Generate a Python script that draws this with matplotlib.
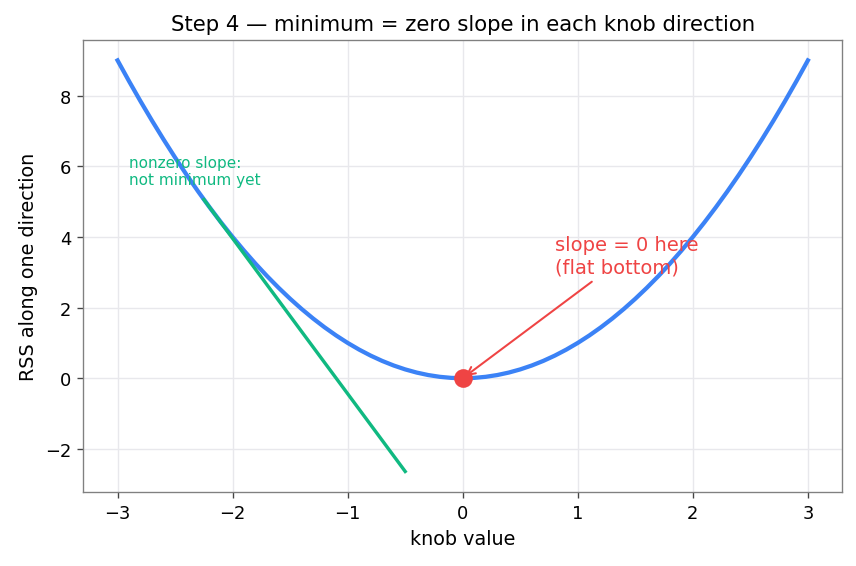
import matplotlib
matplotlib.use('Agg')
import matplotlib.pyplot as plt

# knob values and RSS
knob = [-3.0, -2.9, -2.8, -2.7, -2.6, -2.5, -2.4, -2.3, -2.2, -2.1, -2.0,
        -1.9, -1.8, -1.7, -1.6, -1.5, -1.4, -1.3, -1.2, -1.1, -1.0,
        -0.9, -0.8, -0.7, -0.6, -0.5, -0.4, -0.3, -0.2, -0.1, 0.0,
        0.1, 0.2, 0.3, 0.4, 0.5, 0.6, 0.7, 0.8, 0.9, 1.0,
        1.1, 1.2, 1.3, 1.4, 1.5, 1.6, 1.7, 1.8, 1.9, 2.0,
        2.1, 2.2, 2.3, 2.4, 2.5, 2.6, 2.7, 2.8, 2.9, 3.0]
rss = [9.0, 8.41, 7.84, 7.29, 6.76, 6.25, 5.76, 5.29, 4.84, 4.41, 4.0,
       3.61, 3.24, 2.89, 2.56, 2.25, 1.96, 1.69, 1.44, 1.21, 1.0,
       0.81, 0.64, 0.49, 0.36, 0.25, 0.16, 0.09, 0.04, 0.01, 0.0,
       0.01, 0.04, 0.09, 0.16, 0.25, 0.36, 0.49, 0.64, 0.81, 1.0,
       1.21, 1.44, 1.69, 1.96, 2.25, 2.56, 2.89, 3.24, 3.61, 4.0,
       4.41, 4.84, 5.29, 5.76, 6.25, 6.76, 7.29, 7.84, 8.41, 9.0]

# tangent segment (nonzero slope)
tan_x = [-2.25, -0.5]
tan_y = [5.06, -2.64]

min_x, min_y = 0.0, 0.0

blue = '#3b82f6'
green = '#10b981'
red = '#ef4444'

fig = plt.figure(figsize=(7.0, 4.636), dpi=122.3)
ax = fig.add_axes([0.097, 0.1305, 0.887, 0.7975])

ax.plot(knob, rss, color=blue, linewidth=2.5, zorder=2)
ax.plot(tan_x, tan_y, color=green, linewidth=2, zorder=3)
ax.plot([min_x], [min_y], 'o', color=red, markersize=10, zorder=4)

ax.text(-2.9, 5.5, 'nonzero slope:\nnot minimum yet', color=green, fontsize=9)
ax.annotate('slope = 0 here\n(flat bottom)', xy=(min_x, min_y), xytext=(0.8, 3.0),
            color=red, fontsize=11.5,
            arrowprops=dict(arrowstyle='->', color=red, linewidth=1.2))

ax.set_title('Step 4 \u2014 minimum = zero slope in each knob direction', fontsize=12.5)
ax.set_xlabel('knob value', fontsize=11.3)
ax.set_ylabel('RSS along one direction', fontsize=11.3)
ax.tick_params(labelsize=10.5, color='#444444')
ax.grid(True, color='#e8e8ec', linewidth=0.8)
ax.set_axisbelow(True)
for s in ax.spines.values():
    s.set_color('#808080')

plt.savefig('out.png', dpi=122.3)
